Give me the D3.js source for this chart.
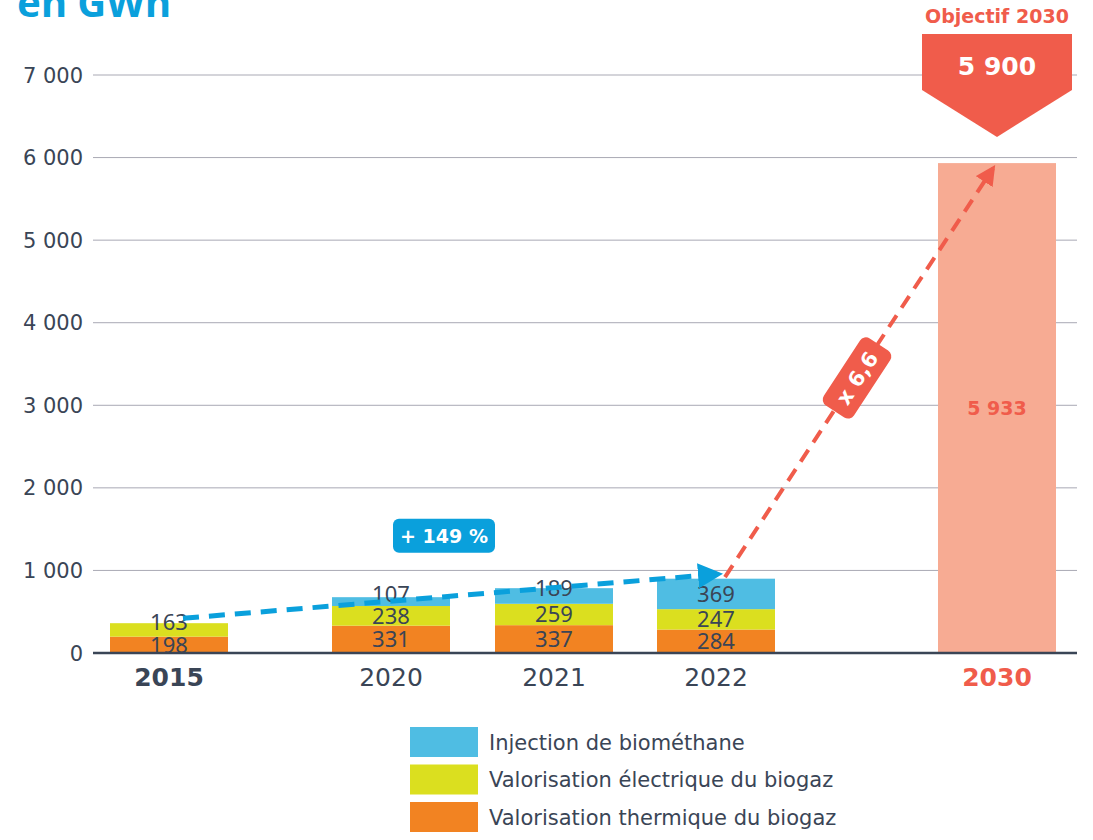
<!DOCTYPE html>
<html>
<head>
<meta charset="utf-8">
<script src="https://cdn.jsdelivr.net/npm/d3@7"></script>
<style>
  body { margin: 0; background: #fff; }
  svg { font-family: "DejaVu Sans", sans-serif; }
</style>
</head>
<body>
<div id="chart"></div>
<script>
// data
const years = ["2015", "2020", "2021", "2022", "2030"];
const thermique = [198, 331, 337, 284, 0];
const electrique = [163, 238, 259, 247, 0];
const injection = [0, 107, 189, 369, 0];
const objectif = [0, 0, 0, 0, 5933];
const yTicks = [0, 1000, 2000, 3000, 4000, 5000, 6000, 7000];
const seriesNames = ["Injection de biométhane", "Valorisation électrique du biogaz", "Valorisation thermique du biogaz"];

const w = 1093, h = 840;
const dark = "#3a4556", red = "#f05c4b", blue = "#0aa0dc";
const colors = { thermique: "#f28322", electrique: "#dbdf1f", injection: "#4fbde3", objectif: "#f7ab93" };

const svg = d3.select("#chart").append("svg").attr("width", w).attr("height", h);

const y = d3.scaleLinear().domain([0, 7000]).range([653, 75]);
// uneven spacing of the years on the original
const x = d3.scaleOrdinal().domain(years).range([169, 391, 554, 716, 997]);
const bw = 118;

// title (cut at top)
svg.append("text").attr("x", 17).attr("y", 17)
  .attr("font-family", "Noto Sans")
  .attr("font-size", 40).attr("font-weight", "bold").attr("fill", blue)
  .text("en GWh");

// grid
svg.append("g").selectAll("line").data(yTicks.filter(d => d > 0)).enter().append("line")
  .attr("x1", 93).attr("x2", 1077)
  .attr("y1", d => y(d)).attr("y2", d => y(d))
  .attr("stroke", "#a9a9b4").attr("stroke-width", 1);

svg.append("g").selectAll("text").data(yTicks).enter().append("text")
  .attr("x", 83).attr("y", d => y(d)).attr("dy", "0.36em")
  .attr("text-anchor", "end").attr("font-size", 21).attr("fill", dark)
  .text(d => d3.format(",")(d).replace(",", " "));

// stacked bars
const rows = years.map((yr, i) => ({ year: yr, thermique: thermique[i], electrique: electrique[i], injection: injection[i], objectif: objectif[i] }));
const keys = ["thermique", "electrique", "injection", "objectif"];
const stack = d3.stack().keys(keys)(rows);

const layers = svg.append("g").selectAll("g").data(stack).enter().append("g")
  .attr("fill", d => colors[d.key]);
layers.selectAll("rect").data(d => d.filter(s => s[1] - s[0] > 0)).enter().append("rect")
  .attr("x", d => x(d.data.year) - bw / 2)
  .attr("width", bw)
  .attr("y", d => y(d[1]))
  .attr("height", d => y(d[0]) - y(d[1]));

// segment labels
stack.forEach(layer => {
  const big = layer.key == "objectif";
  svg.append("g").selectAll("text").data(layer.filter(s => s[1] - s[0] > 0)).enter().append("text")
    .attr("x", d => x(d.data.year))
    .attr("y", d => y((d[0] + d[1]) / 2))
    .attr("dy", d => (!big && (d[1] - d[0]) < 195) ? "0em" : "0.35em")
    .attr("text-anchor", "middle")
    .attr("font-family", big ? "DejaVu Sans" : "Noto Sans")
    .attr("font-size", big ? 19 : 22)
    .attr("font-weight", big ? "bold" : "normal")
    .attr("fill", big ? red : dark)
    .text(d => d3.format(",")(d[1] - d[0]).replace(",", " "));
});

// baseline
svg.append("line").attr("x1", 93).attr("x2", 1077).attr("y1", y(0)).attr("y2", y(0))
  .attr("stroke", dark).attr("stroke-width", 2.5);

// x labels
svg.append("g").selectAll("text").data(years).enter().append("text")
  .attr("x", d => x(d)).attr("y", 686)
  .attr("text-anchor", "middle").attr("font-size", 25)
  .attr("font-weight", d => (d == "2015" || d == "2030") ? "bold" : "normal")
  .attr("fill", d => d == "2030" ? red : dark)
  .text(d => d);

// arrows
const defs = svg.append("defs");
[["arrBlue", blue], ["arrRed", red]].forEach(([id, c]) => {
  defs.append("marker").attr("id", id).attr("viewBox", "0 0 10 10")
    .attr("refX", 8).attr("refY", 5).attr("markerWidth", 5).attr("markerHeight", 5)
    .attr("markerUnits", "strokeWidth").attr("orient", "auto")
    .append("path").attr("d", "M0,0 L10,5 L0,10 Z").attr("fill", c);
});

svg.append("line")
  .attr("x1", x("2015") + 14).attr("y1", y(420))
  .attr("x2", x("2022") + 2).attr("y2", y(955))
  .attr("stroke", blue).attr("stroke-width", 5)
  .attr("stroke-dasharray", "16,10")
  .attr("marker-end", "url(#arrBlue)");

const rx1 = x("2022") + 9, ry1 = y(920), rx2 = x("2030") - 4, ry2 = y(5870);
svg.append("line")
  .attr("x1", rx1).attr("y1", ry1).attr("x2", rx2).attr("y2", ry2)
  .attr("stroke", red).attr("stroke-width", 4)
  .attr("stroke-dasharray", "14,9")
  .attr("marker-end", "url(#arrRed)");

// + 149 % badge
const bb = svg.append("g").attr("transform", `translate(444,${y(1420)})`);
bb.append("rect").attr("x", -51).attr("y", -17).attr("width", 102).attr("height", 34)
  .attr("rx", 6).attr("fill", blue);
bb.append("text").attr("text-anchor", "middle").attr("dy", "0.36em")
  .attr("font-size", 19).attr("font-weight", "bold").attr("fill", "#fff").text("+ 149 %");

// x 6,6 badge along red arrow
const ang = Math.atan2(ry2 - ry1, rx2 - rx1) * 180 / Math.PI;
const rb = svg.append("g")
  .attr("transform", `translate(${rx1 + (rx2 - rx1) * 0.5 - 2},${ry1 + (ry2 - ry1) * 0.487}) rotate(${ang})`);
rb.append("rect").attr("x", -40).attr("y", -18).attr("width", 80).attr("height", 36)
  .attr("rx", 7).attr("fill", red);
rb.append("text").attr("text-anchor", "middle").attr("dy", "0.36em")
  .attr("font-size", 21).attr("font-weight", "bold").attr("fill", "#fff").text("x 6,6");

// objectif 2030 badge
const cx = x("2030");
svg.append("text").attr("x", cx).attr("y", 23).attr("text-anchor", "middle")
  .attr("font-size", 19).attr("font-weight", "bold").attr("fill", red).text("Objectif 2030");
svg.append("path")
  .attr("d", `M${cx - 75},34 L${cx + 75},34 L${cx + 75},90 L${cx},137 L${cx - 75},90 Z`)
  .attr("fill", red);
svg.append("text").attr("x", cx).attr("y", 66).attr("dy", "0.36em").attr("text-anchor", "middle")
  .attr("font-size", 25).attr("font-weight", "bold").attr("fill", "#fff").text("5 900");

// legend
const legColors = [colors.injection, colors.electrique, colors.thermique];
const leg = svg.append("g").selectAll("g").data(seriesNames).enter().append("g")
  .attr("transform", (d, i) => `translate(410,${727 + i * 37.5})`);
leg.append("rect").attr("width", 68).attr("height", 30).attr("fill", (d, i) => legColors[i]);
leg.append("text").attr("x", 79).attr("y", 15).attr("dy", "0.36em")
  .attr("font-size", 21).attr("fill", dark).text(d => d);
</script>
</body>
</html>
